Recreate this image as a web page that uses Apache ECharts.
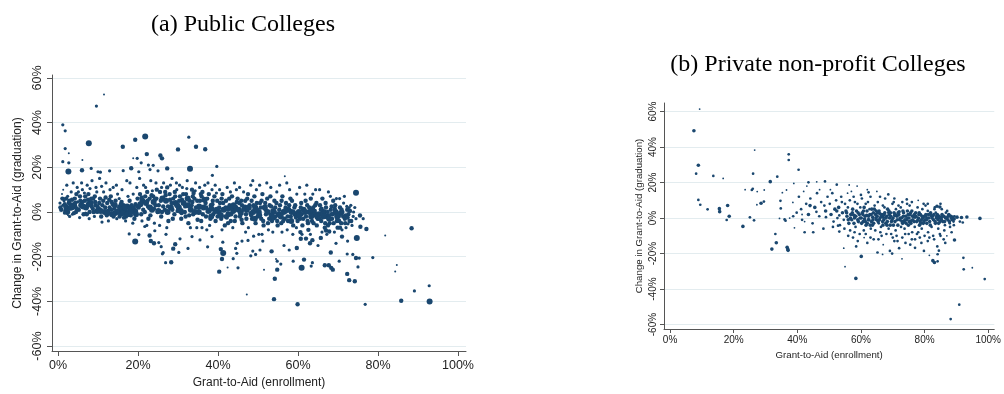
<!DOCTYPE html>
<html>
<head>
<meta charset="utf-8">
<script src="https://cdn.jsdelivr.net/npm/echarts@6/dist/echarts.min.js"></script>
<style>html,body{margin:0;padding:0;background:#fff}#c{width:1004px;height:394px}</style>
</head>
<body>
<div id="c"></div>
<script>
// ---- titles & axis texts ----
const titleA = "(a) Public Colleges";
const titleB = "(b) Private non-profit Colleges";
const xName = "Grant-to-Aid (enrollment)";
const yName = "Change in Grant-to-Aid (graduation)";
const xTicks = [0, 20, 40, 60, 80, 100];
const yTicks = [-60, -40, -20, 0, 20, 40, 60];

// ---- Public colleges: [grant-to-aid enrollment %, change %, weight class] ----
const publicOutliers = [
[11.5,52.6,1],[9.6,47.4,2],[1.2,39,2],[1.8,36.3,2],[21.8,33.8,4],[32.7,33.5,2],[7.7,30.8,4],[19.3,32.3,3],[16.2,29.2,3],[30,28,3],[34.5,29.2,3],[36.8,28.1,3],[1.8,28.4,2],[2.7,26.3,1],[22.2,25.9,3],[25.6,25.3,3],[26,24,3],[1.2,22.5,2],[2.7,22,2],[6.1,23.3,1],[18.8,24,1],[19.8,24,2],[20.8,22,2],[22.6,21,2],[23.8,20.9,2],[2.6,18.1,4],[6,18.7,3],[8.3,19.5,2],[10,18,2],[10.6,17.8,2],[12.9,18.4,2],[16.3,18.5,2],[18.3,19.6,3],[20.2,18,2],[23,19,2],[25,18.4,2],[27.3,19.5,3],[33,19.4,4],[39.7,20.4,2],[38.6,16.4,2],[56.7,16,1],[74.5,8.6,4],[75.5,-1.6,3],[76.3,-3,2],[88.4,-7.3,3],
[72.2,2.5,2],[77.1,-7.6,3],[81.8,-10.5,1],[74.7,-11.6,4],[75.6,-6.6,3],[72.5,-5.3,2],[72.4,-13,2],[71,-11,3],[70.5,-7,3],[67.8,-8.7,3],[67,-8.3,3],[65.7,-11.6,3],[63.6,-12.6,3],[63,-14,3],[62,-11.9,3],[60.7,-12,3],[60.6,-9,3],[59.7,-16.1,3],[53.4,-17.6,3],[50.5,-17,2],[48.7,-17.5,2],[48.2,-19.6,2],[47.5,-12.7,2],[48.9,-10.8,2],[50.2,-10,2],[51.2,-13,2],[68.2,-18.1,3],[72.3,-18.8,2],[73.7,-19,2],[74.5,-20.6,3],[75.3,-20.6,2],[78.7,-20.4,2],[61.5,-21.3,3],[58.8,-22,2],[63.6,-22.7,2],[66.7,-23.8,3],[67.7,-23.8,3],[68.3,-25,3],[68.7,-25.8,3],[70.3,-22,2],[54.8,-22,2],[55.7,-23.3,2],[54.5,-21,1],[60.9,-25,4],[63.3,-24.2,2],[54.8,-25.8,3],[51.5,-25.8,1],[75,-24.6,2],[72.3,-27.7,3],[72.8,-30.5,3],[74.2,-31,3],[54.2,-29.9,3],[84.7,-23.7,1],[84.3,-26.6,1],[89.1,-35.3,2],[92.8,-33,2],[54,-39,3],[59.9,-41.3,3],[76.8,-41.3,2],[85.8,-39.7,3],[92.9,-40,4],[47.2,-36.9,1],
[17.8,-9.8,2],[19.3,-13.2,4],[20.2,-10.1,2],[21.7,-6.5,2],[22.9,-10.5,3],[23.2,-13,3],[24,-14,3],[25.2,-13.7,2],[24.2,-8.4,2],[25.8,-15.5,2],[26.3,-18.2,2],[28.3,-22.5,3],[28.8,-16.4,3],[29.3,-14.4,3],[30.2,-18.1,2],[32.5,-16.3,2],[37.4,-15.6,2],[41.2,-13.5,2],[40.7,-16.6,3],[41.3,-18.4,4],[41,-21,3],[43.8,-20.9,2],[42.4,-24.8,1],[40.3,-26.7,3],[45,-25,2],[44.4,-16.3,2],[44.7,-18.5,2],[49.4,-19,2],[44.8,-14,2],[30.5,-12,2],[27,-10,2],[33.5,-11,2],[35.5,-12.5,2],[38.5,-11,2],[46,-13,2],[56.5,-15,2],[57.8,-17,2],[65,-15,2],[69.5,-14,2],[26.1,-18.7,2],[26.9,-22.7,2]
];
const publicCloud = [
[0.8,1,3],[1.2,3,2],[1.5,5,2],[1.8,0.5,3],[2.1,2,4],[2.4,7,2],[2.7,4,3],[3.0,1.5,3],[3.3,9,2],[3.6,-1,2],[3.9,3,4],[4.2,6,3],[4.5,0,3],[4.8,11,2],[1.0,8,1],[1.6,-0.5,2],[2.2,12,2],[2.9,-2,2],[3.5,5.5,3],[4.1,2.5,4],[4.6,8,3],[0.5,4,2],[1.3,10,1],[2.0,6,3],[3.1,3.5,3],[4.0,-0.5,3],[4.9,4.5,2],[3.8,13,2],[2.5,-1.5,1],[1.9,2.5,3],
[5.2,1,3],[5.5,7,3],[5.8,3,4],[6.1,10,2],[6.4,-1,3],[6.7,5,3],[7.0,2,4],[7.3,12,2],[7.6,8,3],[7.9,0,3],[8.2,4,4],[8.5,14,2],[8.8,6,3],[9.1,-2,2],[9.4,3,3],[9.7,9,2],[5.4,-2.5,2],[6.0,4.5,3],[6.9,-0.5,2],[7.5,5.5,3],[8.0,10.5,2],[8.7,1.5,3],[9.2,7,3],[9.8,0.5,4],[5.9,13,2],[6.6,8.5,2],[7.8,-3,2],[8.4,2.5,3],[9.5,11,2],[5.1,9,2],
[10.2,1,4],[10.5,6,3],[10.8,-2,3],[11.1,3,3],[11.4,9,2],[11.7,0,4],[12.0,13,2],[12.3,4,3],[12.6,-4,2],[12.9,2,3],[13.2,7,3],[13.5,-1,4],[13.8,11,2],[14.1,1.5,3],[14.4,5,3],[14.7,-3,2],[10.4,15,2],[11.0,-4.5,2],[11.9,6.5,3],[12.5,0.5,3],[13.0,10,2],[13.7,3.5,3],[14.3,-0.5,4],[14.9,8,2],[10.9,11.5,2],[12.2,-1.5,3],[13.4,4.5,3],[14.6,12,2],
[15.2,0,4],[15.5,2,4],[15.8,-1,3],[16.1,1,4],[16.4,3,3],[16.7,0.5,4],[17.0,-2,3],[17.3,2.5,4],[17.6,0,3],[17.9,5,3],[18.2,-1.5,3],[18.5,1.5,4],[18.8,8,2],[19.1,-3,3],[19.4,3.5,3],[19.7,11,2],[15.3,6,2],[16.0,10,2],[16.9,-4,2],[17.5,7,2],[18.0,13,2],[18.7,-5,2],[19.3,0.5,4],[19.9,6,3],[15.9,4.5,3],[17.2,14,2],[18.4,3,3],[16.5,-2.5,3],
[20.2,2,3],[20.5,8,3],[20.8,-1,3],[21.1,5,4],[21.4,12,2],[21.7,0,3],[22.0,4,4],[22.3,9,3],[22.6,-3,3],[22.9,6,3],[23.2,14,2],[23.5,1,4],[23.8,7,3],[24.1,-5,2],[24.4,3,3],[24.7,10,3],[20.4,15,2],[21.0,-4,2],[21.9,11,2],[22.5,2.5,3],[23.1,-1.5,3],[23.9,4.5,4],[24.5,13,2],[24.9,0,3],[20.9,6.5,3],[22.2,-6,2],[23.6,9.5,2],[24.2,5.5,3],
[25.2,3,3],[25.5,9,3],[25.8,-2,3],[26.1,6,4],[26.4,13,2],[26.7,1,3],[27.0,5,4],[27.3,11,3],[27.6,-4,3],[27.9,8,3],[28.2,2,4],[28.5,15,2],[28.8,6,3],[29.1,-1,3],[29.4,4,4],[29.7,10,2],[25.4,-6,2],[26.0,0,3],[26.9,7.5,3],[27.5,2.5,3],[28.1,12,2],[28.7,-3,3],[29.3,7,3],[29.9,0.5,3],[25.9,11,2],[27.2,-7,2],[28.4,4,3],[29.6,13,2],
[30.2,2,4],[30.5,7,3],[30.8,-3,3],[31.1,11,2],[31.4,4,4],[31.7,0,3],[32.0,8,3],[32.3,14,2],[32.6,-5,3],[32.9,5,3],[33.2,1,4],[33.5,10,3],[33.8,-1,3],[34.1,6,3],[34.4,13,2],[34.7,-7,2],[30.4,12,2],[31.0,5.5,3],[31.9,-2,3],[32.5,3,4],[33.1,-7,2],[33.9,8.5,3],[34.5,2,3],[34.9,-3.5,3],[30.9,-0.5,3],[32.2,10.5,2],[33.6,4.5,3],[34.3,9.5,2],
[35.2,0,4],[35.5,5,3],[35.8,-4,3],[36.1,9,3],[36.4,2,4],[36.7,12,2],[37.0,-2,3],[37.3,6,3],[37.6,0.5,4],[37.9,-6,2],[38.2,3,3],[38.5,10,2],[38.8,-1,3],[39.1,7,3],[39.4,-4,3],[39.7,1,4],[35.4,11,2],[36.0,-7,2],[36.9,4,3],[37.5,13,2],[38.1,-3,3],[38.7,5,3],[39.3,12,2],[39.9,-2,3],[35.9,7,3],[37.2,-8,2],[38.4,1.5,4],[39.6,8.5,2],
[40.2,0,4],[40.5,4,3],[40.8,-3,3],[41.1,8,3],[41.4,1,4],[41.7,-6,3],[42.0,5,3],[42.3,11,2],[42.6,-1,4],[42.9,3,3],[43.2,-4,3],[43.5,7,3],[43.8,0.5,4],[44.1,13,2],[44.4,-2,3],[44.7,4.5,3],[40.4,10,2],[41.0,-8,2],[41.9,2,3],[42.5,-5,3],[43.1,9,2],[43.7,-7,2],[44.3,2,4],[44.9,6,3],[40.9,6,3],[42.2,-2.5,3],[43.4,1.5,3],[44.6,10,2],
[45.2,1,4],[45.5,-2,3],[45.8,5,3],[46.1,-5,3],[46.4,9,2],[46.7,2,4],[47.0,-1,3],[47.3,6,3],[47.6,-7,2],[47.9,3,3],[48.2,12,2],[48.5,-3,3],[48.8,0,4],[49.1,7,3],[49.4,-5,3],[49.7,4,3],[45.4,11,2],[46.0,3,3],[46.9,-9,2],[47.5,8,3],[48.1,-0.5,3],[48.7,14,2],[49.3,2,4],[49.9,-2,3],[45.9,-3.5,3],[47.2,1,4],[48.4,5,3],[49.6,10,2],
[50.2,0,4],[50.5,4,3],[50.8,-3,3],[51.1,8,3],[51.4,-6,3],[51.7,2,4],[52.0,-1,3],[52.3,6,3],[52.6,-8,2],[52.9,3,3],[53.2,11,2],[53.5,-4,3],[53.8,0.5,4],[54.1,5,3],[54.4,-2,3],[54.7,9,2],[50.4,12,2],[51.0,-10,2],[51.9,1,3],[52.5,-5,3],[53.1,7,3],[53.7,-9,2],[54.3,2,3],[54.9,-6,3],[50.9,5,3],[52.2,13,2],[53.4,-1.5,4],[54.6,4,3],
[55.2,-1,4],[55.5,3,3],[55.8,-5,3],[56.1,7,3],[56.4,0,4],[56.7,-3,3],[57.0,4,3],[57.3,-8,2],[57.6,1,4],[57.9,10,2],[58.2,-2,3],[58.5,5,3],[58.8,-6,3],[59.1,2,3],[59.4,-1,4],[59.7,8,2],[55.4,12,2],[56.0,-9,2],[56.9,2,3],[57.5,-4,3],[58.1,6,3],[58.7,-10,2],[59.3,3,3],[59.9,-4,3],[55.9,5,3],[57.2,13,2],[58.4,0,4],[59.6,-7,2],
[60.2,0,4],[60.5,-3,3],[60.8,4,3],[61.1,-6,3],[61.4,1,4],[61.7,8,2],[62.0,-2,3],[62.3,3,3],[62.6,-8,3],[62.9,0,4],[63.2,6,3],[63.5,-4,3],[63.8,2,3],[64.1,-1,4],[64.4,10,2],[64.7,-6,3],[60.4,11,2],[61.0,-10,2],[61.9,5,3],[62.5,-5,3],[63.1,-10,2],[63.7,8,2],[64.3,3,3],[64.9,-3,3],[60.9,-1,3],[62.2,12,2],[63.4,1,4],[64.6,4,3],
[65.2,-1,4],[65.5,3,3],[65.8,-4,3],[66.1,6,3],[66.4,0,4],[66.7,-7,3],[67.0,2,3],[67.3,-2,4],[67.6,9,2],[67.9,-5,3],[68.2,1,3],[68.5,-3,3],[68.8,5,3],[69.1,-9,2],[69.4,0,4],[69.7,-4,3],[65.4,10,2],[66.0,-9,2],[66.9,4,3],[67.5,-6,3],[68.1,7,2],[68.7,-1,3],[69.3,3,3],[69.9,-7,3],[65.9,1.5,3],[67.2,-10,2],[68.4,2.5,3],[69.6,6,2],
[70.2,-2,3],[70.5,2,3],[70.8,-5,3],[71.1,0,3],[71.4,4,2],[71.7,-3,3],[72.0,-7,2],[72.3,1,3],[72.6,-1,3],[72.9,-4,3],[73.2,3,2],[73.5,-6,2],[70.4,6,2],[71.0,-8,2],[71.9,-1.5,3],[73.0,0.5,3],[73.8,-2,2],[74.2,2,2],[74.5,-3,2],[70.7,-0.5,4],[71.6,7,2]
];
const publicCore = [
[0.6,2,3],[1.1,6,3],[1.7,3.5,3],[2.3,0,4],[2.8,5,3],[3.4,2,4],[4.3,4,3],[4.7,1.5,3],[5.6,5,3],[6.3,2.5,4],[6.8,7,3],[7.2,-1,3],[7.7,3.5,4],[8.3,6,3],[8.9,0,3],[9.3,4.5,3],[9.9,2.5,3],[10.3,4,3],[10.7,0.5,4],[11.3,5,3],[11.8,2,3],[12.4,-0.5,4],[12.8,5.5,3],[13.3,1,3],[13.9,-2,3],[14.2,3,4],[14.8,0.5,3],[15.4,-2,3],[15.7,3.5,3],[16.3,-0.5,4],[16.8,2,4],[17.4,-1,4],[17.8,1.5,3],[18.3,0,4],[18.9,2,3],[19.5,-1,4],[19.8,2.5,3],
[20.6,3.5,4],[21.3,1,3],[21.8,7,3],[22.4,5,3],[23.0,2,4],[23.4,7.5,3],[24.0,1.5,3],[24.6,6,3],[25.1,0.5,4],[25.7,5,3],[26.3,2.5,3],[26.8,9,3],[27.4,0,4],[28.0,5.5,3],[28.6,1,3],[29.2,9,3],[29.8,3,4],[30.3,5,3],[30.7,0.5,4],[31.3,8,3],[31.8,2.5,3],[32.4,6,4],[32.8,-1.5,3],[33.4,3,3],[33.7,7,3],[34.2,0,4],[34.8,5,3],[35.3,2.5,4],[35.7,8,3],[36.2,-1,3],[36.6,5.5,4],[37.1,2,3],[37.7,8,3],[38.3,-2,4],[38.6,3.5,3],[39.2,0,3],[39.8,5,3],
[40.3,2,3],[40.7,-1.5,4],[41.3,4,3],[41.8,-2,3],[42.4,1.5,4],[42.8,6,3],[43.3,-1,3],[43.9,3,4],[44.2,-4,3],[44.8,1,3],[45.3,4,3],[45.7,-0.5,4],[46.3,1,3],[46.8,5,3],[47.1,-3,3],[47.7,2,4],[48.3,-1.5,3],[48.9,3,3],[49.2,-3,4],[49.8,1,3],[50.3,-1.5,4],[50.7,2,3],[51.3,-4,3],[51.8,4,3],[52.4,0,4],[52.8,-3,3],[53.3,2.5,3],[53.9,-2.5,4],[54.2,0,3],[54.8,-4,3],[55.3,1,3],[55.7,-2,4],[56.3,-4,3],[56.8,0.5,4],[57.4,-2,3],[57.8,3,3],[58.3,-4,4],[58.9,0,3],[59.5,-2.5,3],
[60.3,-1.5,4],[60.7,2,3],[61.3,-3,3],[61.8,0,4],[62.4,-4,3],[62.8,2,3],[63.3,-2,4],[63.9,-5,3],[64.2,0.5,3],[64.8,-2,4],[65.3,-3,3],[65.7,1,3],[66.3,-2,4],[66.8,-5,3],[67.4,0,3],[67.8,-3,4],[68.3,-1,3],[68.9,-5,3],[69.2,1.5,3],[69.8,-2,4],[70.3,-4,3],[70.9,1,3],[71.3,-2,3],[71.8,-5,3],[72.4,-2.5,3],[72.8,2,2],[73.3,-4,3],[73.9,0,2]
];

// ---- Private non-profit colleges ----
const privateOutliers = [
[9.3,61.4,1],[7.5,49.2,3],[8.9,29.7,3],[8.2,25,2],[13.6,23.7,2],[16.7,22.3,1],[8.9,10.2,2],[9.5,7.5,2],[11.8,4.9,2],[15.5,5.3,3],[15.6,3.6,3],[18.1,7.1,3],[18.6,1,3],[17.8,-1.1,2],[22.9,-4.7,3],[25.1,0.4,2],[26.4,-1.3,2],[26.6,38.3,1],[26.1,25,2],[25.7,15.8,2],[26.0,16.5,2],[23.6,16,1],[27.4,14.9,1],[29.6,15.8,1],[28.6,8.3,3],[29.5,9.3,2],[27.3,7.5,1],[31.5,20.5,3],[33.7,23.3,2],[37.3,35.9,2],[37.3,32.7,2],[40.4,27.2,2],[35.3,14.3,1],[34.7,9.7,2],[34.8,5.4,2],[34.4,-0.2,1],[36,-0.8,2],[36.3,-1.5,2],[33.1,-9,2],[33.4,-13.9,3],[32,-17.5,3],[36.8,-16.5,3],[37.0,-17.5,3],[37.1,-18.2,3],[38.7,1,2],[37.6,0,1],[39.1,-5.5,1],[42.3,-8,2],[38.6,8.8,1],[39.8,3,2],[41.5,2,1],[36.6,15.8,1],[38.9,19.5,1],[43.5,20.1,2],[46.1,20.4,1],[48.7,20.6,2],
[52.4,18.8,2],[56.3,18.6,1],[58.8,18,1],[62.4,14.5,2],[68.6,13.3,2],[74.4,10.5,2],[83.9,6.6,3],[84.8,6.2,3],[88.1,1.3,2],[90.2,0.5,3],[91.6,0.3,3],[93.3,0.6,3],[97.4,-0.2,3],[91.1,-2,2],[92,-2.5,2],[89.2,-4,2],[89.4,-12.4,3],[92.2,-22.4,2],[92.3,-28.9,2],[95,-28,1],[98.9,-34.4,2],[90.9,-48.8,2],[88.2,-56.9,2],[82.6,-24,3],[83.1,-25,3],[84.1,-24.4,2],[84.1,-20.4,2],[84.5,-18.4,2],[84,-16,2],[81.5,-21,1],[79.8,-18.5,2],[77,-16.8,2],[72.9,-23,1],[69.8,-20,2],[69.1,-18.5,2],[65.2,-19.4,2],[66.8,-20.5,1],[60.1,-21.6,3],[58.4,-34,3],[55,-27.4,1],[54.6,-17,1],[53.2,-7.6,2],[52.8,-4.3,2],[58.5,-16,2],[59,-13,2],[57.5,-11,2],[62,-14,2],[64,-12,2],[70.5,-13,2],[74,-14,2],[76,-12,2],[78.5,-11,2],[81,-13,2],[86.5,-14,2],[88.5,-8,2],[87,-10,1],[67,-15,1],[72,-17,2],[61,-11,1]
];
const privateCloud = [
[40.5,12,2],[41.2,5,2],[42,15,1],[42.8,8,2],[43.5,2,3],[44.1,11,2],[44.8,-3,2],[45.5,6,3],[46.2,14,2],[46.9,1,2],[47.5,9,2],[48.2,-6,2],[48.9,4,3],[49.5,12,2],[41.5,-1,2],[43,18,1],[45,-8,2],[47,16,1],[49,0.5,2],[46,3.5,2],[44,7,3],[42.3,-2,1],[48.5,7,2],
[50.2,8,2],[50.6,2,3],[51,14,2],[51.4,-2,2],[51.8,5,3],[52.2,10,2],[52.6,0,2],[53,6,3],[53.4,-4,2],[53.8,12,2],[54.2,3,3],[54.6,-1,2],[55,8,2],[50.4,16,1],[51.2,-5,2],[52.4,4,3],[53.2,1.5,2],[54,9,2],[54.8,-6,2],[55.3,4,3],
[55.6,1,3],[55.9,6,2],[56.2,-3,3],[56.5,10,2],[56.8,2,3],[57.1,-1,3],[57.4,5,3],[57.7,12,2],[58,0,3],[58.3,-5,2],[58.6,4,3],[58.9,8,2],[59.2,-2,3],[59.5,2,3],[59.8,6,2],[55.8,14,1],[56.6,-7,2],[57.3,3,3],[58.1,9,2],[59,-1,3],[59.6,-9,2],[57.9,1.5,3],
[60.1,0,3],[60.4,3,3],[60.7,-2,3],[61,6,3],[61.3,1,3],[61.6,-4,3],[61.9,4,3],[62.2,9,2],[62.5,-1,3],[62.8,2,3],[63.1,-6,2],[63.4,5,3],[63.7,0.5,3],[64,-3,3],[64.3,7,2],[64.6,2,3],[64.9,-1,3],[60.3,11,2],[60.9,-7,2],[61.5,8,2],[62,-3,3],[62.7,5,2],[63.3,-2,3],[63.9,3,3],[64.5,-7,2],[60.6,2,3],[62.4,1,3],[63.6,-4,3],[64.8,4,3],[61.1,-0.5,3],
[65.1,1,3],[65.4,-2,3],[65.7,4,3],[66,0,3],[66.3,-5,2],[66.6,2,3],[66.9,7,2],[67.2,-1,3],[67.5,3,3],[67.8,-3,3],[68.1,1,3],[68.4,5,3],[68.7,-6,2],[69,0,3],[69.3,3,3],[69.6,-2,3],[69.9,8,2],[65.3,9,2],[66.1,-8,2],[66.8,-2,3],[67.6,11,2],[68.2,-4,3],[68.9,2,3],[69.5,-9,2],[65.9,2.5,3],[67,0.5,3],[68.6,3,2],[69.2,-4,3],[65.6,-3,2],[67.4,6,2],
[70.1,0,3],[70.4,3,3],[70.7,-2,3],[71,5,2],[71.3,1,3],[71.6,-4,3],[71.9,2,3],[72.2,-1,3],[72.5,6,2],[72.8,0,3],[73.1,-3,3],[73.4,3,3],[73.7,-6,2],[74,1,3],[74.3,-1,3],[74.6,4,3],[74.9,-4,3],[70.3,9,2],[70.9,-7,2],[71.8,7,2],[72.6,-5,2],[73.3,1,3],[73.9,-9,2],[74.5,8,2],[70.6,1.5,3],[72,3.5,3],[73.6,-2,3],[74.8,2,3],[71.2,-10,2],
[75.1,0,3],[75.4,2,3],[75.7,-3,3],[76,4,3],[76.3,-1,3],[76.6,1,3],[76.9,-5,2],[77.2,3,3],[77.5,-2,3],[77.8,6,2],[78.1,0,3],[78.4,-4,3],[78.7,2,3],[79,-1,3],[79.3,5,2],[79.6,-3,3],[79.9,1,3],[75.3,7,2],[76.1,-8,2],[76.8,2,3],[77.6,-9,2],[78.3,3,3],[79.1,-6,2],[79.7,8,2],[75.8,-1.5,3],[77,0.5,3],[78.6,-2,3],[79.4,0,3],
[80.1,-1,3],[80.4,2,3],[80.7,-3,3],[81,4,2],[81.3,0,3],[81.6,-2,3],[81.9,3,3],[82.2,-5,2],[82.5,1,3],[82.8,-1,3],[83.1,5,2],[83.4,-3,3],[83.7,0,3],[84,2,3],[84.3,-6,2],[84.6,1,3],[84.9,-2,3],[80.3,7,2],[81.1,-8,2],[82,1.5,3],[82.7,-10,2],[83.5,3,2],[84.2,-1,3],[84.8,-9,2],[80.8,0,3],[83.2,6,2],
[85.2,0,3],[85.5,2,3],[85.8,-2,3],[86.1,1,3],[86.4,-4,2],[86.7,3,2],[87,0,3],[87.3,-1,3],[87.6,2,3],[87.9,-3,2],[88.2,1,3],[88.5,-1,2],[88.8,0.5,3],[89.1,-2,2],[85.4,5,2],[86.2,-7,2],[87.1,4,2],[88,-5,2],[89.4,1,2],[86.6,0,3]
];
const privateCore = [
[55.5,3,3],[56,-1,3],[56.7,0,3],[57.2,2,3],[57.8,-3,3],[58.4,1,3],[59.1,3,3],[59.7,0,3],[60.2,-3,3],[60.8,4,3],[61.4,-2,3],[61.8,1.5,3],[62.3,-1,3],[62.9,-4,3],[63.2,2,3],[63.8,-1,3],[64.2,5,3],[64.7,0,3],[65.2,3,3],[65.8,-1,3],[66.4,1,3],[66.9,-4,3],[67.3,2,3],[67.9,0,3],[68.3,-2,3],[68.8,4,3],[69.4,1,3],[69.8,-1,3],[70.2,-4,3],[70.8,2,3],[71.4,-1,3],[71.7,3,3],[72.3,0,3],[72.9,-2,3],[73.2,4,3],[73.8,-1,3],[74.2,-3,3],[74.7,0,3],[75.2,-2,3],[75.6,3,3],[76.2,1,3],[76.7,-2,3],[77.3,1,3],[77.9,-1,3],[78.2,2,3],[78.8,-3,3],[79.2,1,3],[79.8,-2,3],[80.2,1,3],[80.6,-1,3],[81.2,2,3],[81.8,-4,3],[82.3,0,3],[82.9,2,3],[83.3,-2,3],[83.8,1,3],[84.4,-3,3],[84.7,0,3],[85.3,-1,3],[85.7,1,3],[86.3,-2,3],[86.8,0,3],[87.4,1,3],[87.8,-2,3],[88.4,0,3],[88.9,-1,3],[89.3,-0.5,3],
[56,-10,2],[58,-8,2],[61.5,-9,2],[63,-11,2],[65.5,-12,2],[66.5,-10,2],[68,-9,2],[70,-11,2],[71.5,-13,2],[73,-11,2],[75,-9,2],[77,-12,2],[78,-8,2],[80,-10,2],[81.5,-11,2],[83,-12,2],[85,-10,2],[86,-12,2],[75.5,-15,2],[79,-14,2],
[57,15,1],[60,13,2],[63,12,2],[66,12,2],[70.5,11,2],[73,9,2],[76,9,2],[78,10,1],[81,8,2],[85,8,2],[62,16,1],[65,15,1]
];

const NAVY = '#1a476f';
const AXIS = '#555555';
const GRID = '#e3ecef';
const FONT = 'Liberation Sans, Arial, sans-serif';
const sizeA = [0, 2, 3.2, 4.4, 6];
const sizeB = [0, 1.8, 2.7, 3.6, 4.6];
const pct = v => v + '%';

function xAxisCfg(gi, min, max, fs, nfs, margin, gap, tickLen) {
  return {
    gridIndex: gi, type: 'value', min: min, max: max,
    name: xName, nameLocation: 'middle', nameGap: gap,
    nameTextStyle: {fontFamily: FONT, fontSize: nfs, color: '#222'},
    axisLine: {show: true, onZero: false, lineStyle: {color: AXIS, width: 1}},
    axisTick: {show: true, length: tickLen, customValues: xTicks, lineStyle: {color: AXIS}},
    axisLabel: {customValues: xTicks, formatter: pct, fontFamily: FONT, fontSize: fs, color: '#222', margin: margin},
    splitLine: {show: false}
  };
}
function yAxisCfg(gi, min, max, fs, nfs, margin, gap, tickLen) {
  return {
    gridIndex: gi, type: 'value', min: min, max: max,
    name: yName, nameLocation: 'middle', nameGap: gap, nameRotate: 90,
    nameTextStyle: {fontFamily: FONT, fontSize: nfs, color: '#222'},
    axisLine: {show: true, onZero: false, lineStyle: {color: AXIS, width: 1}},
    axisTick: {show: true, length: tickLen, customValues: yTicks, lineStyle: {color: AXIS}},
    axisLabel: {customValues: yTicks, formatter: pct, rotate: 90, fontFamily: FONT, fontSize: fs, color: '#222', margin: margin},
    splitLine: {show: true, lineStyle: {color: GRID, width: 1}}
  };
}

const chart = echarts.init(document.getElementById('c'), null, {renderer: 'canvas'});
chart.setOption({
  backgroundColor: '#ffffff',
  animation: false,
  title: [
    {text: titleA, left: 238, top: 8, textAlign: 'center',
     textStyle: {fontFamily: 'Liberation Serif, Times New Roman, serif', fontSize: 24, fontWeight: 'normal', color: '#000'}},
    {text: titleB, left: 813, top: 48, textAlign: 'center',
     textStyle: {fontFamily: 'Liberation Serif, Times New Roman, serif', fontSize: 24, fontWeight: 'normal', color: '#000'}}
  ],
  grid: [
    {left: 52, right: 538, top: 75, bottom: 41},
    {left: 664, right: 8, top: 103, bottom: 65}
  ],
  xAxis: [
    xAxisCfg(0, -1.5, 102, 12.5, 12, 8, 26, 5),
    xAxisCfg(1, -1.9, 101.9, 10, 9.7, 6, 21, 4)
  ],
  yAxis: [
    yAxisCfg(0, -62.2, 61.3, 12.5, 12, 8, 28, 5),
    yAxisCfg(1, -62.5, 64.8, 10, 9.7, 6, 20, 4)
  ],
  series: [
    {type: 'scatter', xAxisIndex: 0, yAxisIndex: 0, data: publicCloud.concat(publicCore, publicOutliers),
     symbolSize: d => sizeA[d[2]], itemStyle: {color: NAVY, opacity: 1}, silent: true},
    {type: 'scatter', xAxisIndex: 1, yAxisIndex: 1, data: privateCloud.concat(privateCore, privateOutliers),
     symbolSize: d => sizeB[d[2]], itemStyle: {color: NAVY, opacity: 1}, silent: true}
  ]
});
</script>
</body>
</html>
